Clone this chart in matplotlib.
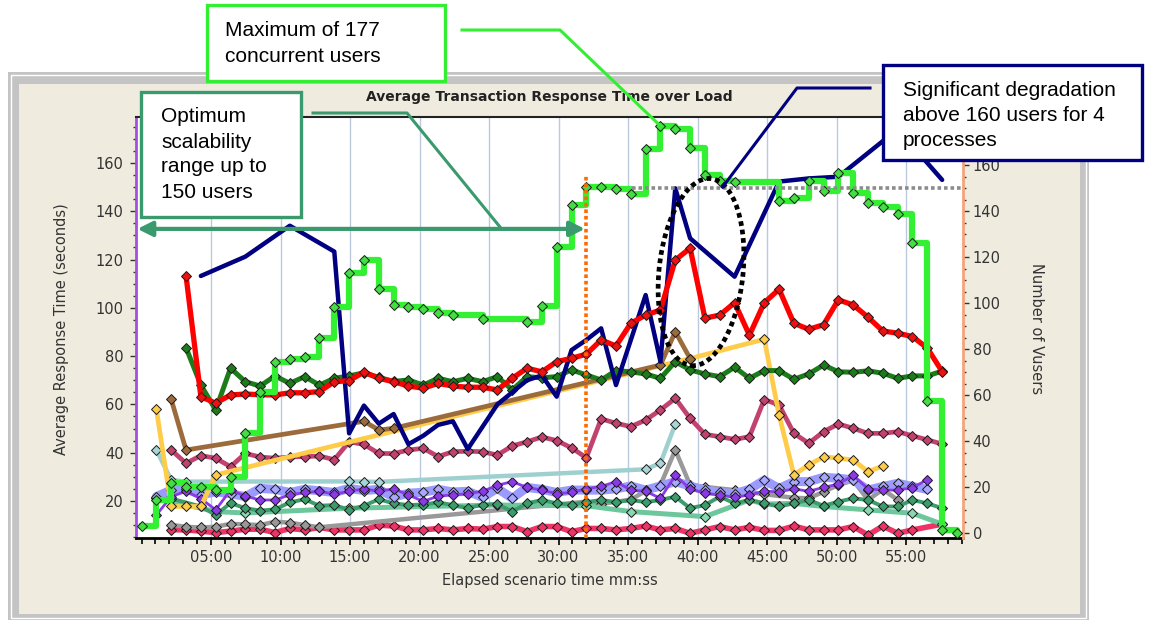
import numpy as np
import matplotlib
matplotlib.use("Agg")
import matplotlib.pyplot as plt
from matplotlib.patches import Rectangle, Ellipse
from matplotlib.lines import Line2D
from matplotlib.transforms import IdentityTransform
from matplotlib.ticker import MultipleLocator, FixedLocator

N = None

# elapsed scenario time of every sample (seconds)
sample_sec = [64, 128, 192, 256, 320, 384, 448, 512, 576, 640,
              704, 768, 832, 896, 960, 1024, 1088, 1152, 1216, 1280,
              1344, 1408, 1472, 1536, 1600, 1664, 1728, 1792, 1856, 1920,
              1984, 2048, 2112, 2176, 2240, 2304, 2368, 2432, 2496, 2560,
              2624, 2688, 2752, 2816, 2880, 2944, 3008, 3072, 3136, 3200,
              3264, 3328, 3392, 3456, 3520]

# running vusers (right axis), first value at 0 s
users_sec = [0] + sample_sec
users = [3.0,
         14.3, 21.6, 20.1, 20.1, 18.7, 24.5, 43.3, 61.4, 74.5, 75.5,
         76.7, 84.6, 98.4, 113.2, 118.7, 106.0, 99.1, 98.4, 97.3, 95.8,
         94.8, N, 92.9, N, N, 91.9, 98.8, 124.2, 142.6, 150.3,
         150.3, 149.6, 147.3, 167.0, 177.0, 175.7, 167.5, 155.8, 153.0, 152.7,
         N, N, 144.5, 145.8, 153.0, 148.7, 156.4, 147.7, 143.3, 141.9,
         138.7, 126.2, 57.5, 1.3, 0.0]

# transaction response times (left axis, seconds)
navy = [N, N, N, 113.2, N, N, 121.2, N, N, 134.0,
        N, N, 123.3, 48.0, 59.5, 52.0, 56.0, 43.5, 47.0, 51.5,
        53.0, 41.5, N, 60.0, N, 70.0, 72.0, 63.2, 82.5, 86.7,
        91.5, 68.0, N, 105.3, 77.7, 149.5, 128.8, N, N, 112.9,
        N, N, 152.3, N, 153.6, N, 154.3, N, N, N,
        174.0, N, N, 153.0, N]
red = [N, N, 113.2, 63.2, 60.5, 63.9, 64.3, 64.0, 63.9, 64.8,
       64.8, 65.3, 69.4, 69.8, 73.4, 70.8, 69.4, 67.6, 66.7, 68.7,
       67.6, 67.1, 67.1, 66.0, 70.8, 75.0, 73.5, 77.7, 79.1, 80.8,
       86.7, 84.2, 93.6, 97.0, 99.1, 119.8, 124.7, 95.7, 97.0, 102.1,
       88.7, 102.1, 107.7, 93.6, 91.1, 93.0, 103.3, 101.2, 96.1, 90.4,
       89.5, 88.1, 83.3, 73.6, N]
dkgreen = [N, N, 83.5, 68.0, 57.7, 75.0, 69.4, 67.6, 71.8, 68.7,
           71.5, 68.0, 70.8, 71.8, 73.1, 71.2, 69.5, 70.1, 68.0, 70.8,
           69.4, 70.8, 69.4, 71.5, 66.0, 71.5, 71.0, 71.5, 74.3, 72.2,
           70.1, 74.0, 73.5, 72.6, 70.8, 77.7, 74.3, 72.6, 71.5, 75.4,
           70.8, 74.0, 74.0, 70.4, 72.6, 76.3, 73.5, 73.3, 73.9, 72.9,
           70.8, 71.8, 71.8, 73.8, N]
brown = [N, 62.1, 41.1, N, N, N, N, N, N, N,
         N, N, N, N, 53.0, 49.4, 50.1, N, N, N,
         N, N, N, N, N, N, N, N, N, N,
         N, N, N, N, 76.3, 90.1, 79.0, N, N, N,
         N, N, N, N, N, N, N, N, N, N,
         N, N, N, N, N]
yellow = [58.0, 17.7, 17.7, 17.7, 30.8, N, N, N, N, N,
          N, N, N, N, N, N, N, N, N, N,
          N, N, N, N, N, N, N, N, N, N,
          N, N, N, N, N, N, 79.0, N, N, N,
          N, 87.0, 55.6, 30.8, 34.9, 38.3, 37.7, 37.0, 32.1, 34.5,
          N, N, N, N, N]
crimson = [N, 41.1, 35.6, 38.8, 37.7, 34.2, 39.7, 38.2, 37.7, 38.2,
           38.4, 38.6, 37.1, 44.5, 43.4, 39.7, 39.6, 41.1, 41.8, 38.4,
           40.4, 40.6, 40.4, 39.0, 42.8, 44.5, 46.5, 45.0, 42.0, 37.9,
           54.0, 52.2, 50.8, 53.5, 57.7, 62.5, 54.2, 47.6, 46.6, 45.5,
           46.6, 62.0, 59.8, 48.0, 43.9, 48.7, 51.9, 50.1, 48.0, 48.0,
           48.7, 47.0, 45.3, 43.6, N]
teal = [41.1, 28.7, 28.0, N, N, N, N, N, N, N,
        N, N, N, 28.1, 28.0, 27.9, N, N, N, N,
        N, N, N, N, N, N, N, N, N, N,
        N, N, N, 33.1, 35.7, 51.8, N, N, N, N,
        N, N, N, N, N, N, N, N, N, N,
        N, N, N, N, N]
lavender = [21.8, 24.5, 25.0, 22.5, 23.8, 23.0, 21.8, 25.2, 24.8, 23.5,
            24.8, 24.2, 23.5, 25.2, 24.3, 24.8, 21.6, 23.2, 23.6, 24.8,
            23.7, 24.0, 21.5, 25.2, 21.1, 25.6, 24.8, 23.5, 24.5, 24.5,
            24.5, 25.0, 26.2, 24.5, 26.2, 28.0, 26.2, 24.5, 23.5, 23.0,
            24.8, 28.6, 25.2, 28.0, 28.0, 29.8, 29.4, 28.7, 24.5, 26.0,
            27.3, 26.0, 24.8, N, N]
purple = [14.2, 21.8, 24.0, 21.0, 16.3, 24.5, 22.0, 20.4, 20.4, 22.5,
          23.5, 24.0, 22.8, 24.0, 25.0, 24.0, 25.0, 22.5, 19.8, 22.0,
          22.5, 23.0, 24.0, 26.5, 28.0, 25.6, 24.5, 23.0, 23.5, 25.0,
          26.0, 28.0, 24.5, 24.0, 21.1, 30.6, 25.0, 23.2, 22.5, 21.5,
          22.5, 24.0, 23.8, 25.0, 24.0, 25.6, 27.0, 30.6, 25.0, 24.5,
          24.5, 25.5, 28.8, N, N]
mint = [21.1, N, N, N, 15.6, N, 15.0, N, N, N,
        N, N, N, 17.0, N, N, N, N, N, N,
        N, N, N, 18.3, N, N, N, N, N, 18.0,
        N, N, 15.6, N, N, N, N, 13.5, N, N,
        20.4, 18.7, N, 19.0, N, 17.7, N, N, 16.3, N,
        N, 14.9, N, 10.4, N]
seagreen = [N, 21.0, N, 17.7, 14.2, 19.1, 17.0, 16.0, 16.5, 19.4,
            20.7, 18.0, 18.3, 16.3, 18.0, 20.7, 19.0, 18.3, 18.5, 19.4,
            18.3, 17.0, 18.5, 18.7, 15.6, 19.0, 20.4, 19.0, 18.5, 19.5,
            20.4, 19.5, 20.4, 19.5, 20.4, 21.8, 17.0, 18.3, 21.8, 19.0,
            20.4, 19.0, 17.7, 19.0, 20.4, 18.0, 19.7, 21.1, 20.4, 17.7,
            17.7, 20.4, 19.0, 17.0, N]
gray = [N, 10.1, 9.3, 9.0, 9.3, 10.5, 10.3, 10.0, 11.4, 11.0,
        10.0, 9.1, N, N, N, N, N, N, N, N,
        N, N, N, N, N, N, N, N, N, 19.7,
        18.7, 19.7, 20.5, 24.2, 26.6, 41.1, 26.6, 25.8, N, 24.5,
        N, 22.8, N, 21.3, 21.1, 23.8, 26.6, 28.5, 20.4, 24.8,
        20.4, N, N, N, N]
pink = [N, 8.1, 8.0, 7.5, 6.9, 7.5, 8.3, 8.3, 6.9, 8.6,
        8.0, 9.0, 8.0, 8.0, 8.0, 10.0, 9.6, 8.0, 8.0, 8.6,
        8.0, 8.6, 8.3, 9.4, 9.4, 7.3, 9.4, 9.4, 7.3, 8.6,
        8.6, 8.0, 8.6, 9.6, 8.0, 8.6, 6.6, 8.0, 9.4, 8.0,
        9.1, 7.8, 7.8, 9.6, 8.0, 8.0, 8.0, 9.4, 5.9, 9.6,
        6.6, 8.0, N, 10.4, N]

# annotation values
ramp_end_min = 32.0      # time when 150 users were reached
users_line = 150
arrow_y = 132.7
x_ticks = list(range(5, 60, 5))
x_labels = ["%02d:00" % m for m in x_ticks]

# (values, colour, marker face, line width, marker size)
styles = [
    (pink, "#ee3366", "#ee3366", 4.0, 5),
    (gray, "#999999", "#999999", 3.2, 5.5),
    (mint, "#6cc89c", "#8ad8b0", 3.6, 5.5),
    (seagreen, "#3c9c6c", "#3c9c6c", 2.8, 5.5),
    (lavender, "#9a9aff", "#a8a8ff", 6.5, 5.5),
    (purple, "#8a3ae6", "#8a3ae6", 2.0, 5),
    (teal, "#9fd0d0", "#a8d6d6", 3.2, 5.5),
    (crimson, "#c2426f", "#c2426f", 3.4, 5),
    (yellow, "#ffcc4a", "#ffcc4a", 3.4, 5.5),
    (brown, "#9b6b3c", "#9b6b3c", 3.4, 5.5),
    (dkgreen, "#1c7c1c", "#1c7c1c", 3.6, 5),
    (navy, "#000080", "#000080", 3.2, 0),
    (red, "#ff0000", "#ee1111", 3.8, 5),
]

W, H = 1156, 620


def fx(x):
    return x / W


def fy(y):
    return 1 - y / H


fig = plt.figure(figsize=(W / 100, H / 100), dpi=100)
fig.patch.set_facecolor("white")

# window frame
fig.add_artist(Rectangle((fx(8), fy(620)), (1089 - 8) / W, (620 - 72) / H,
                         transform=fig.transFigure, fc="#c4c4c4", ec="none", zorder=-6))
fig.add_artist(Rectangle((fx(11), fy(618)), (1086 - 11) / W, (618 - 75) / H,
                         transform=fig.transFigure, fc="none", ec="white", lw=1, zorder=-5))
fig.add_artist(Rectangle((fx(19), fy(614)), (1080 - 19) / W, (614 - 84) / H,
                         transform=fig.transFigure, fc="#efecdf", ec="none", zorder=-4))

ax = fig.add_axes([fx(136), fy(538), (963 - 136) / W, (538 - 117) / H])
ax.set_facecolor("white")
ax2 = ax.twinx()

t = np.array(sample_sec) / 60.0
for values, col, face, lw, ms in styles:
    v = np.array([np.nan if x is None else x for x in values], float)
    ok = ~np.isnan(v)
    ax.plot(t[ok], v[ok], color=col, lw=lw, marker="D" if ms else None, ms=ms,
            mfc=face, mec="#1a1a1a", mew=0.7, solid_joinstyle="round",
            solid_capstyle="round")

tu = np.array(users_sec) / 60.0
u = np.array([np.nan if x is None else x for x in users], float)
ok = ~np.isnan(u)
ax2.plot(tu[ok], u[ok], drawstyle="steps-post", color="#33f033", lw=4.5,
         marker="D", ms=5.5, mfc="#44dd44", mec="#1a1a1a", mew=0.7, zorder=3)

xlim = (-0.4, 59.1)
ylim = (4.65, 179.05)
ylim2 = (-2.17, 180.9)

# 150 users level and the time it was reached
ax2.plot([35.3, xlim[1]], [users_line, users_line], color="#8c8c8c", lw=2.6,
         ls=(0, (1, 0.8)), zorder=4)
ax2.plot([ramp_end_min, ramp_end_min], [ylim[0], 155], transform=ax.transData,
         color="#ff6a00", lw=2.6, ls=(0, (1, 0.8)), zorder=5)
ax2.annotate("", xy=(ramp_end_min - 0.1, arrow_y), xycoords=ax.transData,
             xytext=(xlim[0] + 0.1, arrow_y), textcoords=ax.transData,
             arrowprops=dict(arrowstyle="<|-|>", color="#3a9a6e", lw=3,
                             mutation_scale=22, shrinkA=0, shrinkB=0),
             annotation_clip=False, zorder=6)

ax.set_xlim(*xlim)
ax.set_ylim(*ylim)
ax2.set_ylim(*ylim2)
ax2.set_xlim(*xlim)

ax.set_xticks(x_ticks)
ax.set_xticklabels(x_labels)
ax.xaxis.set_minor_locator(MultipleLocator(1))
ax.yaxis.set_major_locator(FixedLocator(range(20, 161, 20)))
ax.yaxis.set_minor_locator(MultipleLocator(5))
ax2.yaxis.set_major_locator(FixedLocator(range(0, 161, 20)))
ax2.yaxis.set_minor_locator(MultipleLocator(5))

ax.grid(axis="x", color="#bcc8dc", lw=1)
ax.set_axisbelow(True)

tick_font = dict(labelsize=10.5, labelcolor="#333333")
ax.tick_params(axis="x", which="major", length=5, width=1.2, color="black", pad=4, **tick_font)
ax.tick_params(axis="x", which="minor", length=4, width=1.2, color="black")
ax.tick_params(axis="y", which="major", length=4, width=1, color="#333333", pad=5, **tick_font)
ax.tick_params(axis="y", which="minor", length=2.5, width=1, color="#333333")
ax2.tick_params(axis="y", which="major", length=4, width=1, color="#333333", pad=3, **tick_font)
ax2.tick_params(axis="y", which="minor", length=2.5, width=1, color="#333333")

ax.spines["left"].set_color("#a64ee0")
ax.spines["left"].set_linewidth(2)
ax.spines["bottom"].set_color("black")
ax.spines["bottom"].set_linewidth(2)
ax.spines["top"].set_color("#222222")
ax.spines["top"].set_linewidth(1.5)
ax.spines["right"].set_visible(False)
for s in ("left", "top", "bottom"):
    ax2.spines[s].set_visible(False)
ax2.spines["right"].set_color("#f4a47c")
ax2.spines["right"].set_linewidth(2)

# titles and axis labels
fig.text(fx(549), fy(97), "Average Transaction Response Time over Load",
         ha="center", va="center", fontsize=10, fontweight="bold", color="#222222")
fig.text(fx(62), fy(329), "Average Response Time (seconds)", rotation=90,
         ha="center", va="center", fontsize=10.5, color="#333333")
fig.text(fx(1036), fy(329), "Number of Vusers", rotation=270,
         ha="center", va="center", fontsize=10.5, color="#333333")
fig.text(fx(550), fy(580), "Elapsed scenario time mm:ss",
         ha="center", va="center", fontsize=10.5, color="#333333")


def to_fig(axis, x, y):
    d = axis.transData.transform((x, y))
    return fig.transFigure.inverted().transform(d)


def leader(points, color):
    xs = [p[0] for p in points]
    ys = [p[1] for p in points]
    fig.add_artist(Line2D(xs, ys, transform=fig.transFigure, color=color,
                          lw=2.2, zorder=7))


def callout(x0, y0, x1, y1, color, lines, tx, ty, step):
    fig.add_artist(Rectangle((fx(x0), fy(y1)), (x1 - x0) / W, (y1 - y0) / H,
                             transform=fig.transFigure, fc="white", ec=color,
                             lw=2.4, zorder=8))
    for i, line in enumerate(lines):
        fig.text(fx(tx), fy(ty + i * step), line, ha="left", va="center",
                 fontsize=15, family="Liberation Sans", color="black", zorder=9)


# ellipse around the degradation
c = ax.transData.transform((40.25, 114.8))
fig.add_artist(Ellipse(c, 84, 188, angle=-6, transform=IdentityTransform(),
                       fc="none", ec="black", lw=3.4, ls=(0, (1, 0.8)), zorder=7))

imax = int(np.nanargmax(u))
leader([(fx(462), fy(30)), (fx(560), fy(30)), to_fig(ax2, tu[imax], u[imax])], "#33ee33")
leader([(fx(313), fy(113)), (fx(407), fy(113)), to_fig(ax, 25.9, arrow_y)], "#3a9a6e")
leader([(fx(870), fy(88)), (fx(797), fy(88)), to_fig(ax, 41.8, 150)], "#000080")

callout(207, 5, 445, 81, "#33ee33", ["Maximum of 177", "concurrent users"], 225, 30, 27)
callout(141, 92, 301, 217, "#3a9a6e",
        ["Optimum", "scalability", "range up to", "150 users"], 161, 117, 25)
callout(883, 65, 1142, 160, "#000080",
        ["Significant degradation", "above 160 users for 4", "processes"], 903, 90, 25)

fig.savefig("out.png", dpi=100)
